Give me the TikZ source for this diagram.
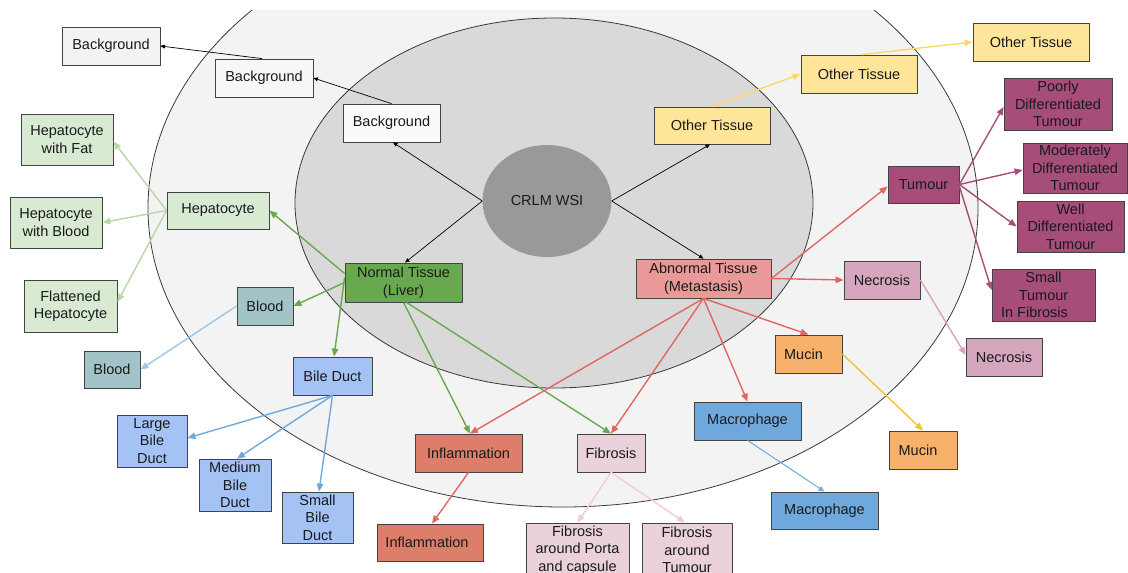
\documentclass[tikz,border=0pt]{standalone}
\usepackage{fontspec}
\setmainfont{Liberation Sans}
\usetikzlibrary{arrows.meta,shapes.geometric}
\definecolor{outerfill}{HTML}{F3F3F3}
\definecolor{innerfill}{HTML}{D9D9D9}
\definecolor{crlmfill}{HTML}{999999}
\definecolor{ringline}{HTML}{3A3A3A}
\definecolor{boxline}{HTML}{434343}
\definecolor{txt}{HTML}{1A1A1A}
\definecolor{bgfar}{HTML}{F3F3F3}
\definecolor{otfill}{HTML}{FFE599}
\definecolor{otline}{HTML}{FFD966}
\definecolor{normfill}{HTML}{6AA84F}
\definecolor{abnfill}{HTML}{EA9999}
\definecolor{redline}{HTML}{E06666}
\definecolor{tumfill}{HTML}{A64D79}
\definecolor{necfill}{HTML}{D5A6BD}
\definecolor{mucfill}{HTML}{F6B26B}
\definecolor{mucline}{HTML}{F1C232}
\definecolor{macfill}{HTML}{6FA8DC}
\definecolor{fibfill}{HTML}{EAD1DC}
\definecolor{fibline}{HTML}{F4CCCC}
\definecolor{inffill}{HTML}{DD7E6B}
\definecolor{hepfill}{HTML}{D9EAD3}
\definecolor{hepline}{HTML}{B6D7A8}
\definecolor{bloodfill}{HTML}{A2C4C9}
\definecolor{bloodline}{HTML}{9FC5E8}
\definecolor{bilefill}{HTML}{A4C2F4}
\begin{document}
\begin{tikzpicture}[x=1pt,y=-1pt,
  box/.style={draw=boxline, line width=0.8pt, inner sep=0pt, align=center,
    font=\fontsize{14.5}{17.5}\selectfont, text=txt},
  thinarrow/.style={draw=black, line width=0.7pt, -{Triangle[length=4.5pt,width=4pt]}},
  colarrow/.style={draw=#1, line width=1.4pt, -{Triangle[length=8pt,width=6.5pt]}},
  lightarrow/.style={draw=#1, line width=1pt, -{Triangle[length=6pt,width=5pt]}}
]
\useasboundingbox (0,0) rectangle (1128,573);
\clip (0,0) rectangle (1128,573);
\begin{scope}
  \clip (0,10) rectangle (1128,573);
  \draw[fill=outerfill, draw=ringline, line width=0.8pt] (563,208) ellipse [x radius=415, y radius=299];
  \draw[fill=innerfill, draw=ringline, line width=0.8pt] (554,203) ellipse [x radius=259, y radius=185];
\end{scope}

% centre
\node[ellipse, fill=crlmfill, minimum width=129, minimum height=112, inner sep=0pt,
  font=\fontsize{14.5}{17.5}\selectfont, text=txt] (crlm) at (547,201) {CRLM WSI};

% background
\node[box, fill=bgfar, minimum width=98, minimum height=38] (bgA) at (111,46) {Background};
\node[box, fill=white!97!black, minimum width=98, minimum height=38] (bgB) at (264,78) {Background};
\node[box, fill=white!98!black, minimum width=97, minimum height=38] (bgC) at (391.5,123) {Background};

% other tissue
\node[box, fill=otfill, minimum width=116, minimum height=37] (otC) at (712,125.5) {Other Tissue};
\node[box, fill=otfill, minimum width=116, minimum height=38] (otB) at (859,74) {Other Tissue};
\node[box, fill=otfill, minimum width=116, minimum height=38] (otA) at (1031,42) {Other Tissue};

% normal / abnormal
\node[box, fill=normfill, minimum width=117, minimum height=39] (normal) at (403.5,282.5) {Normal Tissue\\(Liver)};
\node[box, fill=abnfill, minimum width=135, minimum height=39] (abn) at (703.5,278.5) {Abnormal Tissue\\(Metastasis)};

% tumour
\node[box, fill=tumfill, minimum width=71, minimum height=37] (tumour) at (923.5,184.5) {Tumour};
\node[box, fill=tumfill, minimum width=108, minimum height=52] (poorly) at (1058,104) {Poorly\\Differentiated\\Tumour};
\node[box, fill=tumfill, minimum width=104, minimum height=50] (moder) at (1075,168) {Moderately\\Differentiated\\Tumour};
\node[box, fill=tumfill, minimum width=107, minimum height=51] (well) at (1070.5,226.5) {Well\\Differentiated\\Tumour};
\node[box, fill=tumfill, minimum width=103, minimum height=52] (smallT) at (1043.5,295) {Small\\Tumour\\In Fibrosis\hspace*{18pt}};

% necrosis, mucin, macrophage
\node[box, fill=necfill, minimum width=76, minimum height=38] (necB) at (882,280) {Necrosis};
\node[box, fill=necfill, minimum width=76, minimum height=38] (necA) at (1004,357) {Necrosis};
\node[box, fill=mucfill, minimum width=67, minimum height=38] (mucB) at (808.5,354) {Mucin\hspace*{10pt}};
\node[box, fill=mucfill, minimum width=68, minimum height=38] (mucA) at (923,450) {Mucin\hspace*{10pt}};
\node[box, fill=macfill, minimum width=107, minimum height=38] (macB) at (747.5,421) {Macrophage};
\node[box, fill=macfill, minimum width=107, minimum height=37] (macA) at (824.5,510.5) {Macrophage};

% fibrosis, inflammation
\node[box, fill=fibfill, minimum width=68, minimum height=38] (fibB) at (611,453) {Fibrosis};
\node[box, fill=fibfill, minimum width=103, minimum height=54] (fibP) at (577.5,550) {Fibrosis\\around Porta\\and capsule};
\node[box, fill=fibfill, minimum width=90, minimum height=54] (fibT) at (687,550) {Fibrosis\\around\\Tumour};
\node[box, fill=inffill, minimum width=107, minimum height=38] (infB) at (468.5,453) {Inflammation};
\node[box, fill=inffill, minimum width=106, minimum height=37] (infA) at (430,542.5) {Inflammation\hspace*{6pt}};

% hepatocyte
\node[box, fill=hepfill, minimum width=102, minimum height=37] (hep) at (218,210.5) {Hepatocyte};
\node[box, fill=hepfill, minimum width=92, minimum height=51] (hepFat) at (67,139.5) {Hepatocyte\\with Fat};
\node[box, fill=hepfill, minimum width=92, minimum height=51] (hepBlood) at (56,222.5) {Hepatocyte\\with Blood};
\node[box, fill=hepfill, minimum width=93, minimum height=52] (hepFlat) at (70.5,306) {Flattened\\Hepatocyte};

% blood, bile duct
\node[box, fill=bloodfill, minimum width=56, minimum height=38] (bloodB) at (265,306) {Blood};
\node[box, fill=bloodfill, minimum width=56, minimum height=37] (bloodA) at (112,369.5) {Blood};
\node[box, fill=bilefill, minimum width=79, minimum height=38] (bileB) at (332.5,376) {Bile Duct};
\node[box, fill=bilefill, minimum width=70, minimum height=52] (bileL) at (152,441) {Large\\Bile\\Duct};
\node[box, fill=bilefill, minimum width=72, minimum height=52] (bileM) at (235,485) {Medium\\Bile\\Duct};
\node[box, fill=bilefill, minimum width=71, minimum height=51] (bileS) at (317.5,517.5) {Small\\Bile\\Duct};

% black connectors
\draw[thinarrow] (crlm.west) -- ([xshift=1.5pt]bgC.south);
\draw[thinarrow] (crlm.east) -- ([xshift=-2pt]otC.south);
\draw[thinarrow] (crlm.west) -- ([xshift=1.5pt]normal.north);
\draw[thinarrow] (crlm.east) -- (abn.north);
\draw[thinarrow] (bgC.north) -- (bgB.east);
\draw[thinarrow] ([xshift=-2pt]bgB.north) -- (bgA.east);

% other tissue
\draw[colarrow=otline] (otC.north) -- (otB.west);
\draw[colarrow=otline] ([xshift=3pt]otB.north) -- (otA.west);

% normal tissue
\draw[colarrow=normfill] ([yshift=9pt]normal.west) -- (hep.east);
\draw[colarrow=normfill] (normal.west) -- (bloodB.east);
\draw[colarrow=normfill] ([yshift=5pt]normal.west) -- ([xshift=1.5pt]bileB.north);
\draw[colarrow=normfill] (normal.south) -- ([xshift=1.5pt]infB.north);
\draw[colarrow=normfill] ([xshift=3pt]normal.south) -- (fibB.north);

% abnormal tissue
\draw[colarrow=redline] (abn.east) -- ([yshift=-2pt]tumour.west);
\draw[colarrow=redline] (abn.east) -- (necB.west);
\draw[colarrow=redline] (abn.south) -- (mucB.north);
\draw[colarrow=redline] (abn.south) -- (macB.north);
\draw[colarrow=redline] (abn.south) -- (fibB.north);
\draw[colarrow=redline] (abn.south) -- ([xshift=1.5pt]infB.north);

% tumour
\draw[colarrow=tumfill] (tumour.east) -- ([yshift=-3pt]poorly.west);
\draw[colarrow=tumfill] (tumour.east) -- ([yshift=-2pt]moder.west);
\draw[colarrow=tumfill] (tumour.east) -- (well.west);
\draw[colarrow=tumfill] ([yshift=-2pt]tumour.east) -- ([yshift=5pt]smallT.west);

% hepatocyte children
\draw[colarrow=hepline] (hep.west) -- ([yshift=-2pt]hepFat.east);
\draw[colarrow=hepline] (hep.west) -- (hepBlood.east);
\draw[colarrow=hepline] (hep.west) -- ([yshift=4pt]hepFlat.east);

% blood / bile duct
\draw[colarrow=bloodline] (bloodB.west) -- (bloodA.east);
\draw[colarrow=macfill] (bileB.south) -- ([yshift=3pt]bileL.east);
\draw[colarrow=macfill] (bileB.south) -- ([xshift=2pt]bileM.north);
\draw[colarrow=macfill] (bileB.south) -- ([xshift=1.5pt]bileS.north);

% lower chains
\draw[colarrow=redline] (infB.south) -- ([xshift=2pt]infA.north);
\draw[colarrow=fibline] (fibB.south) -- (fibP.north);
\draw[colarrow=fibline] (fibB.south) -- ([xshift=-2pt]fibT.north);
\draw[lightarrow=macfill] (macB.south) -- (macA.north);
\draw[colarrow=mucline] (mucB.east) -- (mucA.north);
\draw[colarrow=necfill] (necB.east) -- ([yshift=2pt]necA.west);
\end{tikzpicture}
\end{document}
